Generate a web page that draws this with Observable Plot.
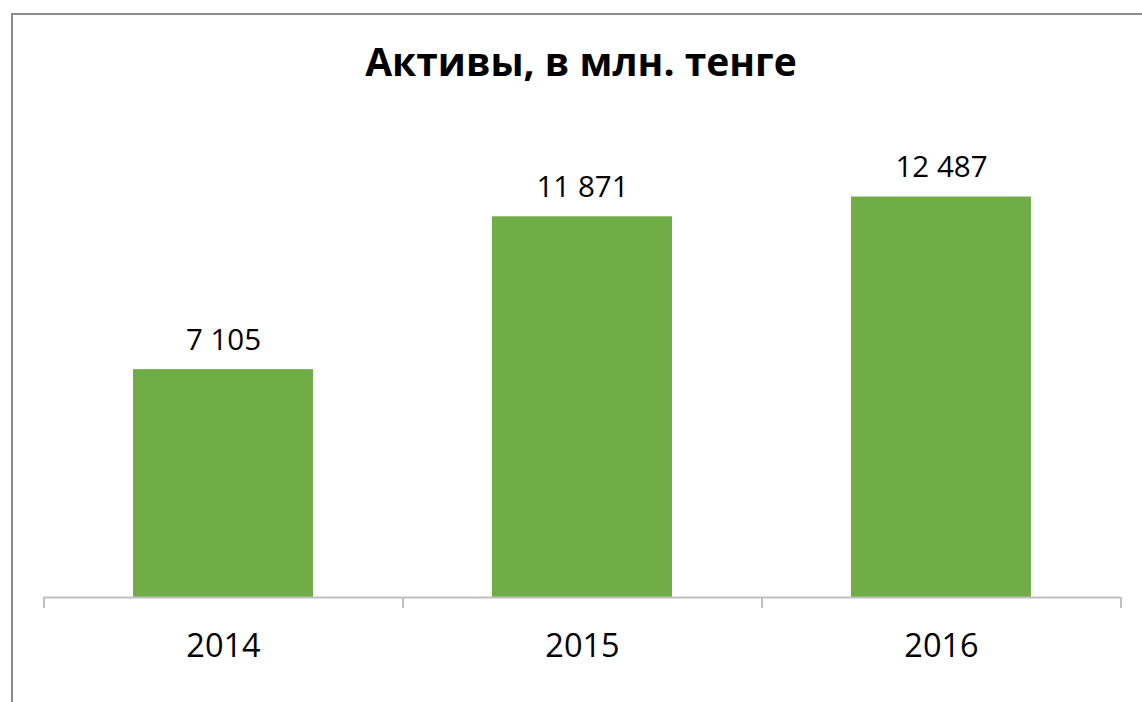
<!DOCTYPE html>
<html>
<head>
<meta charset="utf-8">
<script src="https://cdn.jsdelivr.net/npm/d3@7"></script>
<script src="https://cdn.jsdelivr.net/npm/@observablehq/plot@0.6"></script>
<style>
  html, body { margin: 0; padding: 0; background: #fff; }
  #wrap { position: relative; width: 1142px; height: 702px; overflow: hidden; font-family: "Open Sans", sans-serif; }
  #frame { position: absolute; left: 11px; top: 13px; width: 1200px; height: 800px;
           border-left: 2px solid #8c8c8c; border-top: 2px solid #8c8c8c; box-sizing: border-box; }
  #title { position: absolute; left: 0; width: 1162px; top: 36px; text-align: center;
           font-family: "Open Sans", sans-serif; font-weight: 700; font-size: 39px; color: #000; line-height: 50px; }
  #chart { position: absolute; left: 0; top: 110px; }
</style>
</head>
<body>
<div id="wrap">
  <div id="frame"></div>
  <div id="title">Активы, в млн. тенге</div>
  <div id="chart"></div>
</div>
<script>
const years = ["2014", "2015", "2016"];
const assets = [7105, 11871, 12487];
const titleText = "Активы, в млн. тенге";

const data = years.map((y, i) => ({year: y, value: assets[i]}));
const fmt = d3.formatLocale({decimal: ",", thousands: "\u00a0", grouping: [3], currency: ["", ""]}).format(",d");

const W = 1142, H = 592, mL = 43, mR = 22;
const step = (W - mL - mR) / years.length;

const chart = Plot.plot({
  width: W,
  height: H,
  marginLeft: mL,
  marginRight: mR,
  marginTop: 38,
  marginBottom: 105,
  style: {fontFamily: "Open Sans, sans-serif", background: "transparent"},
  x: {domain: years, paddingInner: 0.5, paddingOuter: 0.25, label: null},
  y: {domain: [0, 14000], axis: null},
  marks: [
    Plot.barY(data, {x: "year", y: "value", fill: "#70ad47"}),
    Plot.ruleY([0], {stroke: "#bfbfbf", strokeWidth: 2}),
    Plot.ruleX(data, {x: "year", y1: 0, y2: 0, dx: -step / 2, insetBottom: -11, stroke: "#bfbfbf", strokeWidth: 2}),
    Plot.ruleX(data.slice(-1), {x: "year", y1: 0, y2: 0, dx: step / 2, insetBottom: -11, stroke: "#bfbfbf", strokeWidth: 2}),
    Plot.text(data, {x: "year", y: "value", text: d => fmt(d.value), dy: -29, fontSize: 29.5, fill: "#000"}),
    Plot.axisX({tickSize: 0, tickPadding: 36, fontSize: 32.5, color: "#000", label: null})
  ]
});
document.getElementById("chart").appendChild(chart);
</script>
</body>
</html>
